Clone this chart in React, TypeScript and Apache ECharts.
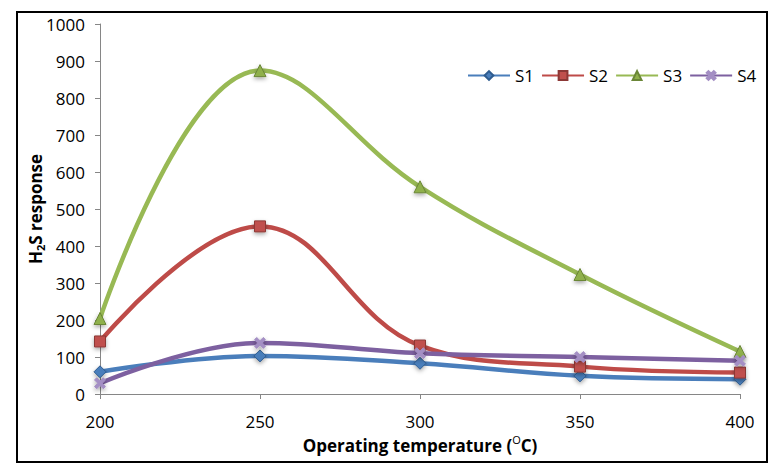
import React, { useEffect, useRef } from "react";
import * as echarts from "echarts";

const temperatures = [200, 250, 300, 350, 400];
const seriesNames = ["S1", "S2", "S3", "S4"];
const s1Values = [60, 103, 83, 49, 40];
const s2Values = [142, 453, 131, 74, 58];
const s3Values = [204, 874, 560, 323, 115];
const s4Values = [29, 138, 110, 100, 90];
const yTicks = { min: 0, max: 1000, interval: 100 };
const xTicks = { min: 200, max: 400, interval: 50 };

const FONT = "Open Sans";
const X_SYMBOL =
  "path://M2,0 L5,3 L8,0 L10,2 L7,5 L10,8 L8,10 L5,7 L2,10 L0,8 L3,5 L0,2 Z";

export default function App() {
  const ref = useRef<HTMLDivElement>(null);

  useEffect(() => {
    if (!ref.current) return;
    const chart = echarts.init(ref.current, undefined, { renderer: "svg" });
    const allValues = [s1Values, s2Values, s3Values, s4Values];
    const styles = [
      { color: "#4A7EBB", marker: "#4A7EBB", border: "#2F5C8F", symbol: "diamond", size: 12 },
      { color: "#BE4B48", marker: "#C0504D", border: "#8C3836", symbol: "rect", size: 11 },
      { color: "#98B954", marker: "#8FB04B", border: "#6A8637", symbol: "triangle", size: 12 },
      { color: "#7D60A0", marker: "#A48FC4", border: "#A48FC4", symbol: X_SYMBOL, size: 11 },
    ];
    const series = seriesNames.map((name, i) => ({
      name,
      type: "line",
      smooth: 0.4,
      data: temperatures.map((t, j) => [t, allValues[i][j]]),
      symbol: styles[i].symbol,
      symbolSize: styles[i].size,
      lineStyle: { color: styles[i].color, width: 4.5 },
      itemStyle: {
        color: styles[i].marker,
        borderColor: styles[i].border,
        borderWidth: 1,
        shadowBlur: 4,
        shadowColor: "rgba(0,0,0,0.35)",
        shadowOffsetY: 2,
      },
      z: 2 + i,
    }));

    chart.setOption({
      animation: false,
      backgroundColor: "#ffffff",
      textStyle: { fontFamily: FONT },
      grid: { left: 100, right: 44, top: 24, bottom: 79, containLabel: false },
      legend: {
        left: 462,
        top: 62,
        itemWidth: 42,
        itemHeight: 11,
        itemGap: 7,
        textStyle: { fontFamily: FONT, fontSize: 17, color: "#000" },
        data: seriesNames,
      },
      xAxis: {
        type: "value",
        min: xTicks.min,
        max: xTicks.max,
        interval: xTicks.interval,
        splitLine: { show: false },
        axisLine: { lineStyle: { color: "#868686", width: 1 } },
        axisTick: { show: true, length: 5, lineStyle: { color: "#868686" } },
        axisLabel: {
          color: "#000",
          fontSize: 17,
          margin: 19,
          fontFamily: FONT,
          formatter: (v: number) => String(v),
        },
        name: "{a|Operating temperature (}{sup|O}{a|C)}",
        nameLocation: "middle",
        nameGap: 40,
        nameMoveOverlap: false,
        nameTextStyle: {
          rich: {
            a: { fontSize: 17, fontWeight: "bold", color: "#000", fontFamily: FONT, lineHeight: 22 },
            sup: {
              fontSize: 11,
              fontWeight: "normal",
              color: "#000",
              fontFamily: FONT,
              lineHeight: 12,
              verticalAlign: "top",
            },
          },
        },
      },
      yAxis: {
        type: "value",
        min: yTicks.min,
        max: yTicks.max,
        interval: yTicks.interval,
        splitLine: { show: false },
        axisLine: { show: true, lineStyle: { color: "#868686", width: 1 } },
        axisTick: { show: true, length: 5, lineStyle: { color: "#868686" } },
        axisLabel: {
          color: "#000",
          fontSize: 17,
          margin: 15,
          fontFamily: FONT,
          formatter: (v: number) => String(v),
        },
        name: "{a|H}{sub|2}{a|S response}",
        nameLocation: "middle",
        nameGap: 54,
        nameRotate: 90,
        nameMoveOverlap: false,
        nameTextStyle: {
          rich: {
            a: { fontSize: 17, fontWeight: "bold", color: "#000", fontFamily: FONT, lineHeight: 22 },
            sub: {
              fontSize: 11,
              fontWeight: "bold",
              color: "#000",
              fontFamily: FONT,
              lineHeight: 12,
              verticalAlign: "bottom",
            },
          },
        },
      },
      graphic: [
        {
          type: "rect",
          shape: { x: 17, y: 12, width: 750, height: 450 },
          style: { fill: "none", stroke: "#000", lineWidth: 2 },
          silent: true,
          z: 100,
        },
      ],
      series,
    });
    return () => chart.dispose();
  }, []);

  return (
    <div
      ref={ref}
      style={{ position: "fixed", left: 0, top: 0, width: 784, height: 473, background: "#fff" }}
    />
  );
}
